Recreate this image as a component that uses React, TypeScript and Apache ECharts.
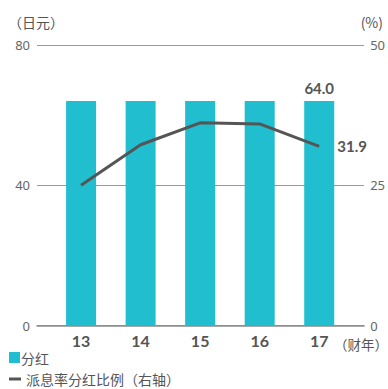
import React, { useEffect, useRef } from "react";
import * as echarts from "echarts";

// Fiscal years and values
const years = ["13", "14", "15", "16", "17"];
const dividends = [64.0, 64.0, 64.0, 64.0, 64.0]; // 日元
const payoutRatio = [25.0, 32.2, 36.1, 35.9, 31.9]; // %
const leftTicks = { min: 0, max: 80, interval: 40 };
const rightTicks = { min: 0, max: 50, interval: 25 };

const BAR_COLOR = "#21bed0";
const LINE_COLOR = "#555555";
const TEXT_COLOR = "#555555";
const CJK = "'Noto Sans CJK SC', 'Noto Sans', sans-serif";
const NUM = "Lato, 'Noto Sans', sans-serif";

export default function App() {
  const ref = useRef<HTMLDivElement>(null);

  useEffect(() => {
    if (!ref.current) return;
    const chart = echarts.init(ref.current, undefined, { renderer: "svg" });
    const last = years.length - 1;

    chart.setOption({
      animation: false,
      backgroundColor: "#ffffff",
      textStyle: { fontFamily: CJK },
      grid: [
        // frame grid: gridlines, value labels, baseline
        { left: 37, right: 23, top: 44.8, bottom: 63.5 },
        // plotting grid for bars and line
        { left: 51.3, right: 39, top: 44.8, bottom: 63.5 },
      ],
      xAxis: [
        {
          type: "value",
          gridIndex: 0,
          min: 0,
          max: 1,
          axisLine: { show: true, lineStyle: { color: "#8c8c8c", width: 1.5 } },
          axisTick: { show: false },
          axisLabel: { show: false },
          splitLine: { show: false },
        },
        {
          type: "category",
          gridIndex: 1,
          data: years,
          axisLine: { show: false },
          axisTick: { show: false },
          axisLabel: {
            color: TEXT_COLOR,
            fontSize: 16,
            fontWeight: "bold",
            fontFamily: NUM,
            margin: 7,
          },
        },
      ],
      yAxis: [
        {
          type: "value",
          gridIndex: 0,
          ...leftTicks,
          position: "left",
          axisLine: { show: false },
          axisTick: { show: false },
          axisLabel: { color: "#666", fontSize: 13, lineHeight: 14, fontFamily: "'Noto Sans', sans-serif", margin: 7 },
          splitLine: { show: true, lineStyle: { color: "#9a9a9a", width: 1 } },
        },
        {
          type: "value",
          gridIndex: 0,
          ...rightTicks,
          position: "right",
          axisLine: { show: false },
          axisTick: { show: false },
          axisLabel: { color: "#666", fontSize: 13, lineHeight: 14, fontFamily: "'Noto Sans', sans-serif", margin: 6 },
          splitLine: { show: false },
        },
        { type: "value", gridIndex: 1, ...leftTicks, show: false },
        { type: "value", gridIndex: 1, ...rightTicks, position: "right", show: false },
      ],
      legend: [
        {
          data: ["分红"],
          orient: "vertical",
          left: 9,
          top: 350,
          padding: 0,
          icon: "rect",
          itemWidth: 11,
          itemHeight: 11,
          textStyle: { color: TEXT_COLOR, fontSize: 14, lineHeight: 15, fontFamily: CJK, padding: [0, 0, 0, -4] },
        },
        {
          data: ["派息率分红比例（右轴）"],
          orient: "vertical",
          left: 9,
          top: 371.5,
          padding: 0,
          icon: "rect",
          itemWidth: 12,
          itemHeight: 3,
          textStyle: { color: TEXT_COLOR, fontSize: 14, lineHeight: 15, fontFamily: CJK },
        },
      ],
      graphic: [
        {
          type: "text",
          left: 8,
          top: 15,
          style: { text: "（日元）", fontSize: 14, fill: TEXT_COLOR, fontFamily: CJK },
        },
        {
          type: "text",
          right: 5,
          top: 15,
          style: { text: "(%)", fontSize: 14, fill: TEXT_COLOR, fontFamily: CJK },
        },
        {
          type: "text",
          left: 334,
          top: 337,
          style: { text: "（财年）", fontSize: 13.5, lineHeight: 14, fill: TEXT_COLOR, fontFamily: CJK },
        },
      ],
      series: [
        {
          name: "分红",
          type: "bar",
          xAxisIndex: 1,
          yAxisIndex: 2,
          barWidth: 30,
          itemStyle: { color: BAR_COLOR },
          data: dividends.map((v, i) => ({
            value: v,
            label: {
              show: i === last,
              position: "top",
              distance: 5,
              formatter: (p: any) => Number(p.value).toFixed(1),
              color: TEXT_COLOR,
              fontSize: 15,
              fontWeight: "bold",
              fontFamily: NUM,
            },
          })),
        },
        {
          name: "派息率分红比例（右轴）",
          type: "line",
          xAxisIndex: 1,
          yAxisIndex: 3,
          symbol: "none",
          lineStyle: { color: LINE_COLOR, width: 3 },
          itemStyle: { color: LINE_COLOR },
          z: 5,
          data: payoutRatio,
          endLabel: {
            show: true,
            distance: 18,
            formatter: (p: any) => Number(p.value).toFixed(1),
            color: TEXT_COLOR,
            fontSize: 15,
            fontWeight: "bold",
            fontFamily: NUM,
          },
        },
      ],
    });

    return () => chart.dispose();
  }, []);

  return <div ref={ref} style={{ width: 388, height: 389, position: "absolute", left: 0, top: 0 }} />;
}
